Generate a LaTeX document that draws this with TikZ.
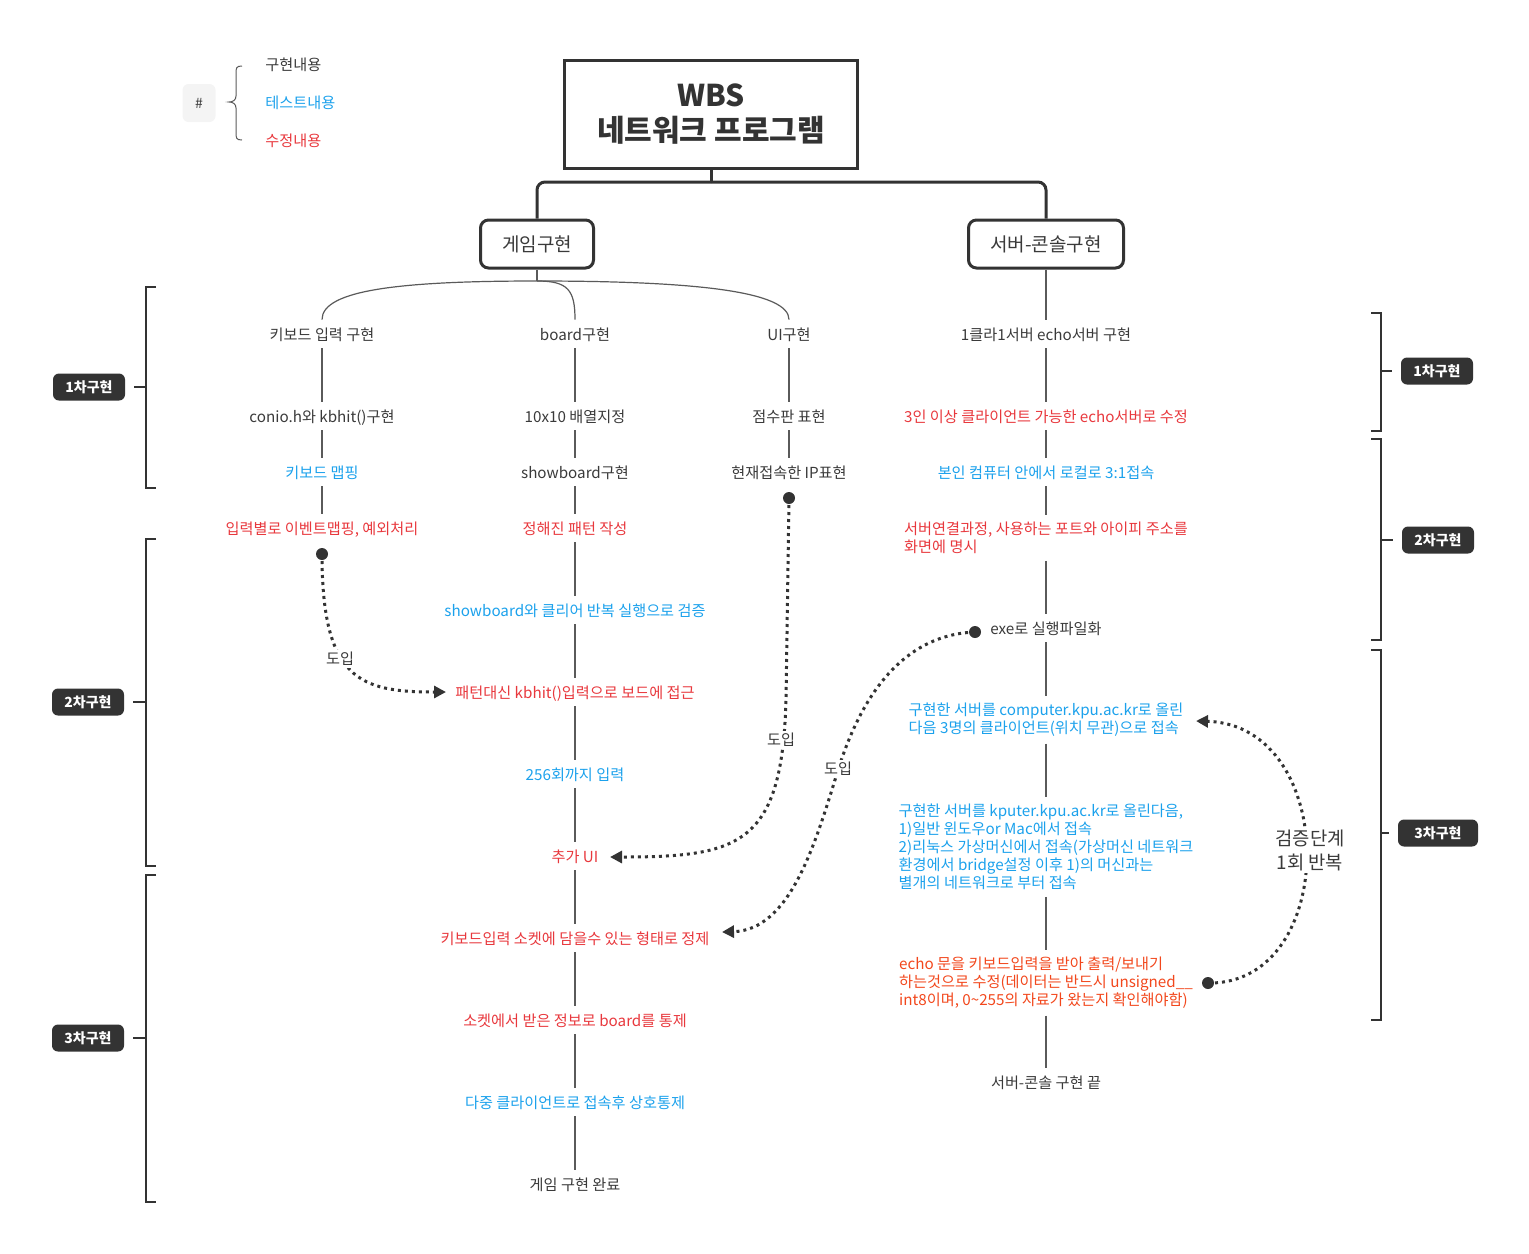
\documentclass[tikz,border=0pt]{standalone}
\usepackage{fontspec}
\setmainfont{Noto Sans CJK KR}
\usetikzlibrary{arrows.meta}
\definecolor{tgray}{HTML}{3A3A3A}
\definecolor{lgray}{HTML}{5A5A5A}
\definecolor{tblu}{HTML}{1BA1EC}
\definecolor{tred}{HTML}{E8383D}
\definecolor{torg}{HTML}{F2471C}
\definecolor{dark}{HTML}{333333}
\definecolor{legbg}{HTML}{F4F4F4}
\tikzset{
 item/.style={font=\fontsize{7.6pt}{9pt}\selectfont, text=tgray, inner xsep=2pt, inner ysep=3.25pt, text height=7pt, text depth=0.5pt},
 multi/.style={font=\fontsize{7.6pt}{9pt}\selectfont, text=tgray, align=left, inner xsep=2pt, inner ysep=3.25pt},
 tb/.style={text=tblu},
 tr/.style={text=tred},
 tor/.style={text=torg},
 tree/.style={draw=lgray, line width=0.6pt},
 thickline/.style={draw=dark, line width=1.5pt},
 topbox/.style={draw=dark, line width=1.5pt, rounded corners=4pt, minimum height=24pt, font=\fontsize{9.5pt}{11pt}\selectfont, text=tgray},
 lab/.style={fill=dark, rounded corners=3pt, text=white, font=\fontsize{7pt}{9pt}\selectfont\bfseries, minimum width=36pt, minimum height=13.5pt, inner sep=1pt},
 brk/.style={draw=dark, line width=1pt},
 dotline/.style={draw=dark, line width=1.5pt, dash pattern=on 1.5pt off 2pt, -{Triangle[length=6pt,width=6pt]}},
 lbl/.style={font=\fontsize{7.6pt}{9pt}\selectfont, text=tgray, fill=white, inner sep=1pt},
}
\begin{document}
\begin{tikzpicture}[x=0.5pt,y=-0.5pt]
\useasboundingbox (0,0) rectangle (1529,1253);

% legend
\node[fill=legbg, rounded corners=3pt, minimum width=16.5pt, minimum height=19pt, inner sep=0pt, font=\fontsize{7pt}{9pt}\selectfont, text=tgray] (hash) at (199,103) {\#};
\draw[draw=lgray, line width=0.5pt] (242,66) .. controls (236,66) and (236,68) .. (236,74) -- (236,96) .. controls (236,100) and (233,102) .. (229,102) .. controls (233,102) and (236,104) .. (236,108) -- (236,132) .. controls (236,138) and (236,140) .. (242,140);
\node[item, anchor=west] (leg1) at (261,64) {구현내용};
\node[item, tb, anchor=west] (leg2) at (261,102) {테스트내용};
\node[item, tr, anchor=west] (leg3) at (261,140) {수정내용};

% title and top boxes
\node[draw=dark, line width=1.5pt, minimum width=146.5pt, minimum height=54pt, align=center, font=\fontsize{15pt}{17.5pt}\selectfont\bfseries, text=dark] (title) at (711,114) {WBS\\네트워크 프로그램};
\node[topbox, minimum width=56.5pt] (game) at (537,244) {게임구현};
\node[topbox, minimum width=77.5pt] (server) at (1046,244) {서버-콘솔구현};
\coordinate (j) at (711,182);
\draw[thickline] (title.south) -- (j);
\draw[thickline, rounded corners=4pt] (j) -| (game.north);
\draw[thickline, rounded corners=4pt] (j) -| (server.north);

% game columns
\node[item] (kb) at (322,334) {키보드 입력 구현};
\node[item] (kb2) at (322,416) {conio.h와 kbhit()구현};
\node[item,tb] (kb3) at (322,472) {키보드 맵핑};
\node[item,tr] (kb4) at (322,528) {입력별로 이벤트맵핑, 예외처리};

\node[item] (bd) at (575,334) {board구현};
\node[item] (bd2) at (575,416) {10x10 배열지정};
\node[item] (bd3) at (575,472) {showboard구현};
\node[item,tr] (bd4) at (575,528) {정해진 패턴 작성};
\node[item,tb] (bd5) at (575,610) {showboard와 클리어 반복 실행으로 검증};
\node[item,tr] (bd6) at (575,692) {패턴대신 kbhit()입력으로 보드에 접근};
\node[item,tb] (bd7) at (575,774) {256회까지 입력};
\node[item,tr] (bd8) at (575,856) {추가 UI};
\node[item,tr] (bd9) at (575,938) {키보드입력 소켓에 담을수 있는 형태로 정제};
\node[item,tr] (bd10) at (575,1020) {소켓에서 받은 정보로 board를 통제};
\node[item,tb] (bd11) at (575,1102) {다중 클라이언트로 접속후 상호통제};
\node[item] (bd12) at (575,1184) {게임 구현 완료};

\node[item] (ui) at (789,334) {UI구현};
\node[item] (ui2) at (789,416) {점수판 표현};
\node[item] (ui3) at (789,472) {현재접속한 IP표현};

\coordinate (gs) at (537,281);
\draw[tree] (game.south) -- (gs);
\draw[tree] (gs) .. controls (400,281) and (322,290) .. (kb.north);
\draw[tree] (gs) .. controls (568,281) and (575,290) .. (bd.north);
\draw[tree] (gs) .. controls (700,281) and (789,292) .. (ui.north);

\foreach \a/\b in {kb/kb2,kb2/kb3,kb3/kb4,bd/bd2,bd2/bd3,bd3/bd4,bd4/bd5,bd5/bd6,bd6/bd7,bd7/bd8,bd8/bd9,bd9/bd10,bd10/bd11,bd11/bd12,ui/ui2,ui2/ui3}
  \draw[tree] (\a.south) -- (\b.north);

% server column
\node[item] (sv1) at (1046,334) {1클라1서버 echo서버 구현};
\node[item,tr] (sv2) at (1046,416) {3인 이상 클라이언트 가능한 echo서버로 수정};
\node[item,tb] (sv3) at (1046,472) {본인 컴퓨터 안에서 로컬로 3:1접속};
\node[multi,tr] (sv4) at (1046,538) {서버연결과정, 사용하는 포트와 아이피 주소를\\화면에 명시};
\node[item] (sv5) at (1046,628) {exe로 실행파일화};
\node[multi,tb] (sv6) at (1046,720) {구현한 서버를 computer.kpu.ac.kr로 올린\\다음 3명의 클라이언트(위치 무관)으로 접속};
\node[multi,tb] (sv7) at (1046,847) {구현한 서버를 kputer.kpu.ac.kr로 올린다음,\\1)일반 윈도우or Mac에서 접속\\2)리눅스 가상머신에서 접속(가상머신 네트워크\\환경에서 bridge설정 이후 1)의 머신과는\\별개의 네트워크로 부터 접속};
\node[multi,tor] (sv8) at (1046,983) {echo 문을 키보드입력을 받아 출력/보내기\\하는것으로 수정(데이터는 반드시 unsigned\_\_\\int8이며, 0\textasciitilde255의 자료가 왔는지 확인해야함)};
\node[item] (sv9) at (1046,1082) {서버-콘솔 구현 끝};

\draw[tree] (server.south) -- (sv1.north);
\foreach \a/\b in {sv1/sv2,sv2/sv3,sv3/sv4,sv4/sv5,sv5/sv6,sv6/sv7,sv7/sv8,sv8/sv9}
  \draw[tree] (\a.south) -- (\b.north);

% dotted connectors
\coordinate (d1) at (322,554); \coordinate (a1) at (446,692);
\coordinate (d2) at (789,498); \coordinate (a2) at (610,857);
\coordinate (d3) at (975,632); \coordinate (a3) at (722,932);
\coordinate (d4) at (1208,983); \coordinate (a4) at (1196,721);

\draw[dotline] (d1) .. controls (322,680) and (360,692) .. (a1);
\draw[dotline] (d2) -- (786,700) .. controls (782,845) and (740,857) .. (a2);
\draw[dotline] (d3) .. controls (900,635) and (860,700) .. (838,770) .. controls (815,845) and (790,930) .. (a3);
\draw[dotline] (d4) .. controls (1340,985) and (1340,725) .. (a4);
\foreach \p in {d1,d2,d3,d4} \fill[dark] (\p) circle[radius=3pt];

\node[lbl] (intro1) at (340,659) {도입};
\node[lbl] (intro2) at (781,740) {도입};
\node[lbl] (intro3) at (838,769) {도입};
\node[fill=white, align=center, font=\fontsize{9.4pt}{12pt}\selectfont, text=tgray, inner sep=1pt] (rep) at (1310,850) {검증단계\\1회 반복};

% left brackets
\node[lab] (L1) at (89,387) {1차구현};
\node[lab] (L2) at (88,702) {2차구현};
\node[lab] (L3) at (88,1038) {3차구현};
\draw[brk] (156,287) -- (146,287) -- (146,488) -- (156,488);
\draw[brk] (156,539) -- (146,539) -- (146,866) -- (156,866);
\draw[brk] (156,875) -- (146,875) -- (146,1202) -- (156,1202);
\draw[brk] (L1.east) ++(9,0) -- (146,387);
\draw[brk] (L2.east) ++(9,0) -- (146,702);
\draw[brk] (L3.east) ++(9,0) -- (146,1038);

% right brackets
\node[lab] (R1) at (1437,371) {1차구현};
\node[lab] (R2) at (1438,540) {2차구현};
\node[lab, minimum width=40pt] (R3) at (1438,833) {3차구현};
\draw[brk] (1371,313) -- (1381,313) -- (1381,431) -- (1371,431);
\draw[brk] (1371,439) -- (1381,439) -- (1381,640) -- (1371,640);
\draw[brk] (1371,650) -- (1381,650) -- (1381,1020) -- (1371,1020);
\draw[brk] (R1.west) ++(-9,0) -- (1381,371);
\draw[brk] (R2.west) ++(-9,0) -- (1381,540);
\draw[brk] (R3.west) ++(-9,0) -- (1381,833);
\end{tikzpicture}
\end{document}
